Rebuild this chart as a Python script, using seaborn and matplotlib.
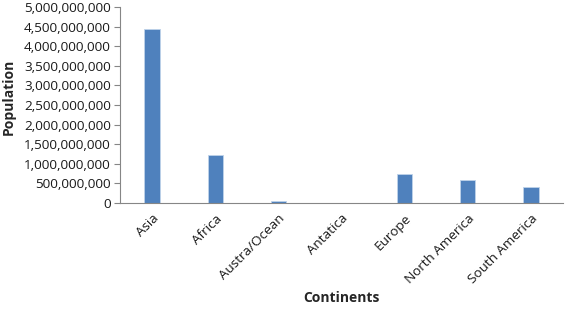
import matplotlib
matplotlib.use("Agg")
import matplotlib.pyplot as plt
import matplotlib.ticker as mticker
import seaborn as sns
import pandas as pd

continents = ["Asia", "Africa", "Austra/Ocean", "Antatica", "Europe", "North America", "South America"]
population = [4.44e9, 1.216e9, 4.0e7, 0, 7.45e8, 5.8e8, 4.16e8]

sns.set_style("white")
plt.rcParams['font.family'] = ['Open Sans', 'DejaVu Sans']

df = pd.DataFrame({"Continents": continents, "Population": population})

fig = plt.figure(figsize=(5.66, 3.12), dpi=100)
ax = fig.add_axes([120.5/566, 1 - 203/312, (562.5 - 120.5)/566, 196/312])
sns.barplot(data=df, x="Continents", y="Population", color="#4F81BD",
            width=0.24, edgecolor="#BFD3EA", linewidth=0.6, saturation=1, ax=ax)
ax.set_ylim(0, 5e9)
ax.set_yticks([i * 5e8 for i in range(11)])
ax.yaxis.set_major_formatter(mticker.FuncFormatter(lambda v, p: f"{int(round(v)):,}"))
ax.tick_params(axis="y", which="both", left=True, length=4, width=0.8, color="#868686",
               labelsize=9.7, pad=3, labelcolor="#1a1a1a")
ax.tick_params(axis="x", bottom=False, labelsize=9.7, pad=3, labelcolor="#1a1a1a")
plt.setp(ax.get_xticklabels(), rotation=45, ha="right", rotation_mode="anchor")
for s in ["top", "right"]:
    ax.spines[s].set_visible(False)
for s in ["left", "bottom"]:
    ax.spines[s].set_color("#868686")
    ax.spines[s].set_linewidth(0.8)
ax.set_xlabel("Continents", fontsize=10, fontweight="bold")
ax.xaxis.set_label_coords((341 - 120.5) / 442, -(291 - 203) / 196)
ax.set_ylabel("Population", fontsize=10, fontweight="bold")
ax.yaxis.set_label_coords(-(120.5 - 16) / 442, (203 - 97) / 196)
fig.savefig("out.png", dpi=100)
